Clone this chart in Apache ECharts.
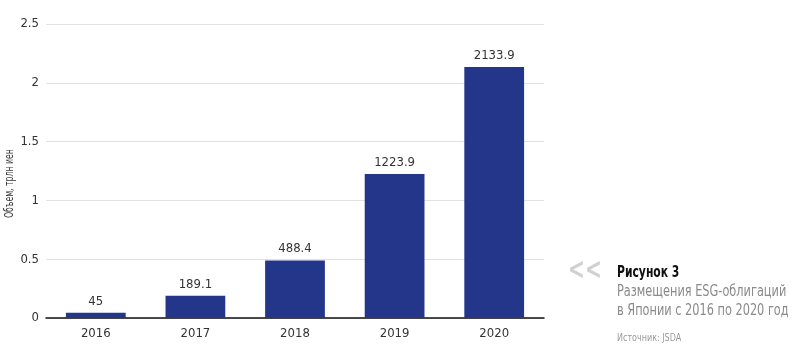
<!DOCTYPE html>
<html><head><meta charset="utf-8">
<script src="https://cdn.jsdelivr.net/npm/echarts@6/dist/echarts.min.js"></script>
<style>html,body{margin:0;padding:0;background:#fff}#c{width:800px;height:355px}</style>
</head><body><div id="c"></div>
<script>
const categories = ['2016','2017','2018','2019','2020'];
const valuesBillionYen = [45, 189.1, 488.4, 1223.9, 2133.9];
const yTickLabels = ['0','0.5','1','1.5','2','2.5'];
const FONT = "'Liberation Sans Narrow','DejaVu Sans Condensed','Roboto',sans-serif";
const chart = echarts.init(document.getElementById('c'));
chart.setOption({
  animation: false,
  textStyle: {fontFamily: FONT},
  grid: {left: 46, right: 256, top: 24, bottom: 37},
  xAxis: {
    type: 'category', data: categories,
    axisLine: {lineStyle: {color: '#111', width: 1.5}},
    axisTick: {show: false},
    axisLabel: {color: '#333', fontSize: 13, margin: 9, fontFamily: FONT}
  },
  yAxis: {
    type: 'value', min: 0, max: 2500, interval: 500,
    axisLine: {show: false}, axisTick: {show: false},
    splitLine: {lineStyle: {color: '#e2e2e2', width: 1}},
    axisLabel: {color: '#333', fontSize: 13, margin: 7, fontFamily: FONT,
      formatter: (v) => yTickLabels[Math.round(v / 500)]}
  },
  series: [{
    type: 'bar', data: valuesBillionYen, barWidth: '60%',
    itemStyle: {color: '#243689'},
    label: {show: true, position: 'top', distance: 5, color: '#333', fontSize: 13, fontFamily: FONT}
  }],
  graphic: [
    {type: 'text', x: 4, y: 218, rotation: Math.PI / 2, scaleX: 0.72,
      style: {text: 'Объем, трлн иен', fill: '#333', font: "12px " + FONT, textVerticalAlign: 'top'}},
    {type: 'text', x: 568, y: 256, scaleX: 0.75,
      style: {text: '<<', fill: '#d0d0d0', font: "bold 30px " + FONT, textVerticalAlign: 'top'}},
    {type: 'text', x: 617, y: 265, scaleX: 0.75,
      style: {text: 'Рисунок 3', fill: '#111', font: "bold 16px " + FONT, textVerticalAlign: 'top'}},
    {type: 'text', x: 617, y: 285, scaleX: 0.84,
      style: {text: 'Размещения ESG-облигаций', fill: '#8a8a8a', font: "15px " + FONT, textVerticalAlign: 'top'}},
    {type: 'text', x: 617, y: 304, scaleX: 0.84,
      style: {text: 'в Японии с 2016 по 2020 год', fill: '#8a8a8a', font: "15px " + FONT, textVerticalAlign: 'top'}},
    {type: 'text', x: 617, y: 333, scaleX: 0.81,
      style: {text: 'Источник: JSDA', fill: '#9a9a9a', font: "11px " + FONT, textVerticalAlign: 'top'}}
  ]
});
</script></body></html>
